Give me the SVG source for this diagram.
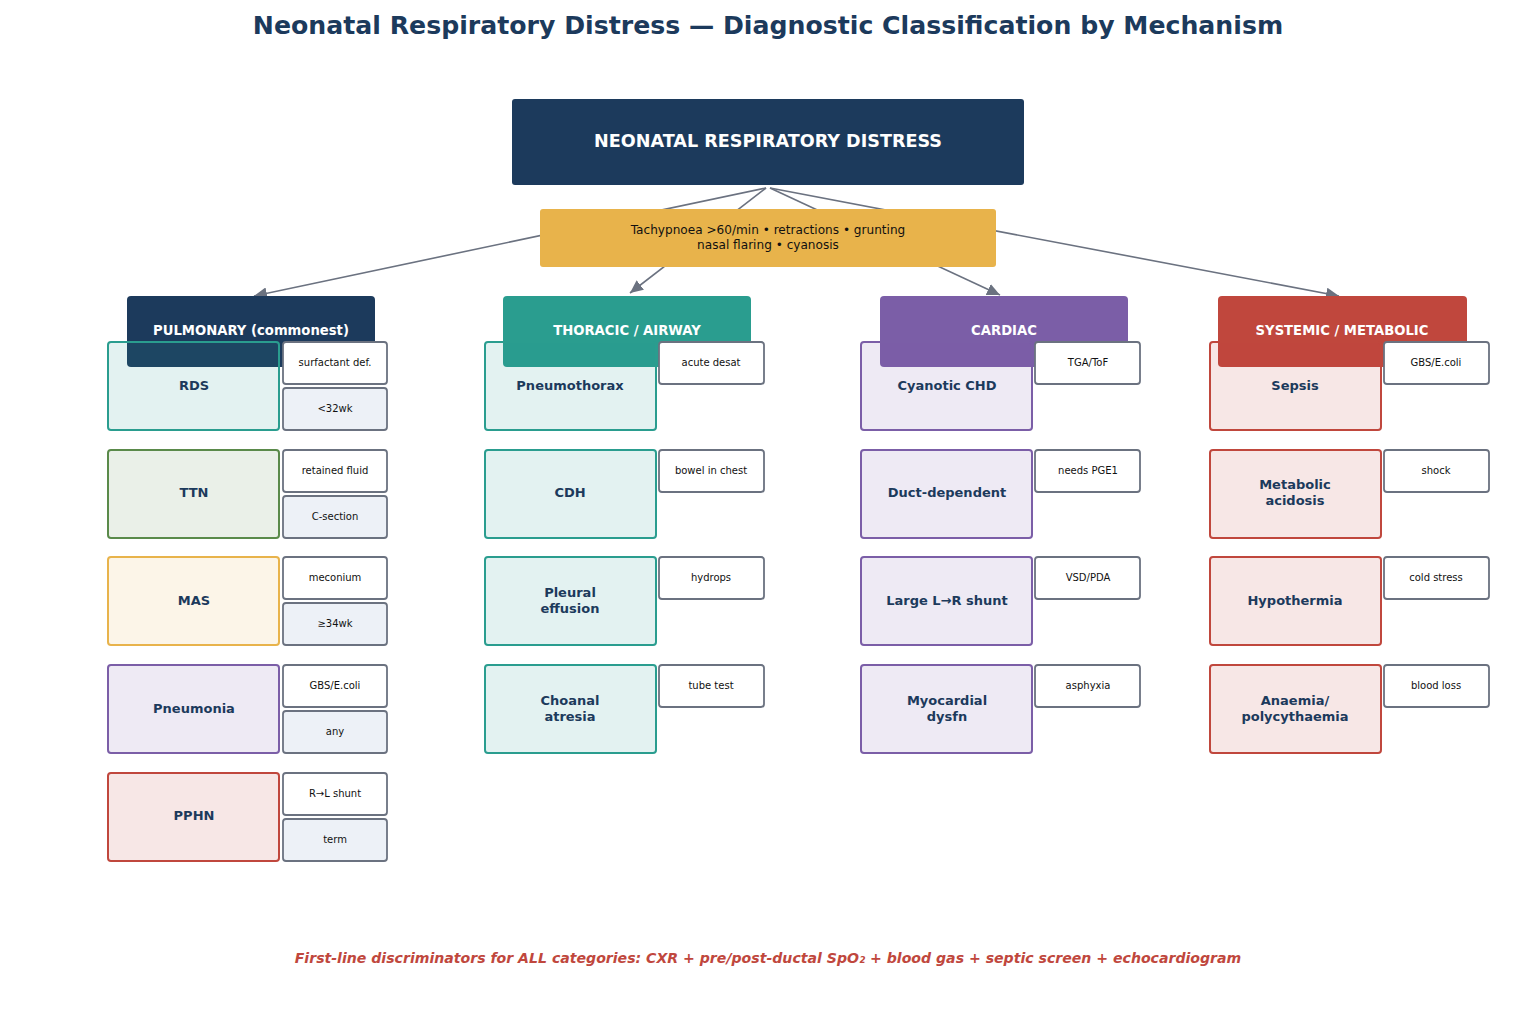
<svg xmlns="http://www.w3.org/2000/svg" width="1536" height="1024" viewBox="0 0 1536 1024">
<style>
text{font-family:"DejaVu Sans","Liberation Sans",sans-serif}
.title{font-size:25.2px;font-weight:bold;fill:#1c3a5c}
.root{fill:#1c3a5c}
.roott{font-size:17.6px;font-weight:bold;fill:#fff}
.sym{fill:#e8b34b}
.symt{font-size:12.1px;fill:#111}
.hdrt{font-size:13.2px;font-weight:bold;fill:#fff}
.node{stroke-width:2;fill-opacity:0.13}
.nt{font-size:13px;font-weight:bold;fill:#1c3a5c}
.s1{fill:#fff;stroke:#6b7280;stroke-width:1.8}
.s2{fill:#edf1f7;stroke:#6b7280;stroke-width:1.8}
.st{font-size:10px;fill:#111}
.conn{stroke:#6b7280;stroke-width:1.6;fill:none}
.foot{font-size:14.1px;font-weight:bold;font-style:italic;fill:#c0473d}
.teal{fill:#2a9d8f;stroke:#2a9d8f}
.green{fill:#5a8a4a;stroke:#5a8a4a}
.gold{fill:#e8b34b;stroke:#e8b34b}
.purple{fill:#7b5ea7;stroke:#7b5ea7}
.red{fill:#c0473d;stroke:#c0473d}
</style>
<defs>
<marker id="arr" markerUnits="userSpaceOnUse" markerWidth="14" markerHeight="12" refX="13" refY="6" orient="auto">
<path d="M0,0 L13,6 L0,12 Z" fill="#6b7280"/>
</marker>
</defs>
<rect width="1536" height="1024" fill="#fff"/>
<text class="title" x="768" y="34" text-anchor="middle">Neonatal Respiratory Distress — Diagnostic Classification by Mechanism</text>

<g id="connectors">
<line class="conn" x1="766" y1="188" x2="254" y2="296" marker-end="url(#arr)"/>
<line class="conn" x1="766" y1="188" x2="630" y2="293" marker-end="url(#arr)"/>
<line class="conn" x1="770" y1="188" x2="1000" y2="295" marker-end="url(#arr)"/>
<line class="conn" x1="770" y1="188" x2="1339" y2="296" marker-end="url(#arr)"/>
</g>

<g id="root">
<rect class="root" x="512" y="99" width="512" height="86" rx="3"/>
<text class="roott" x="768" y="147" text-anchor="middle">NEONATAL RESPIRATORY DISTRESS</text>
</g>

<g id="symptoms">
<rect class="sym" x="540" y="209" width="456" height="58" rx="3"/>
<text class="symt" x="768" y="234" text-anchor="middle">Tachypnoea &gt;60/min • retractions • grunting</text>
<text class="symt" x="768" y="249" text-anchor="middle">nasal flaring • cyanosis</text>
</g>

<g id="hdr-pulmonary"><rect x="127" y="296" width="248" height="71" rx="4" fill="#1c3a5c"/><text class="hdrt" x="251" y="335" text-anchor="middle">PULMONARY (commonest)</text></g>
<g id="hdr-thoracic"><rect x="503" y="296" width="248" height="71" rx="4" fill="#2a9d8f"/><text class="hdrt" x="627" y="335" text-anchor="middle">THORACIC / AIRWAY</text></g>
<g id="hdr-cardiac"><rect x="880" y="296" width="248" height="71" rx="4" fill="#7b5ea7"/><text class="hdrt" x="1004" y="335" text-anchor="middle">CARDIAC</text></g>
<g id="hdr-systemic"><rect x="1218" y="296" width="249" height="71" rx="4" fill="#c0473d"/><text class="hdrt" x="1342" y="335" text-anchor="middle">SYSTEMIC / METABOLIC</text></g>

<!-- Pulmonary -->
<g id="rds"><rect class="node teal" x="108" y="342" width="171" height="88" rx="3"/><text class="nt" x="194" y="390" text-anchor="middle">RDS</text>
<rect class="s1" x="283" y="342" width="104" height="42" rx="3"/><text class="st" x="335" y="366" text-anchor="middle">surfactant def.</text>
<rect class="s2" x="283" y="388" width="104" height="42" rx="3"/><text class="st" x="335" y="412" text-anchor="middle">&lt;32wk</text></g>
<g id="ttn"><rect class="node green" x="108" y="450" width="171" height="88" rx="3"/><text class="nt" x="194" y="497" text-anchor="middle">TTN</text>
<rect class="s1" x="283" y="450" width="104" height="42" rx="3"/><text class="st" x="335" y="474" text-anchor="middle">retained fluid</text>
<rect class="s2" x="283" y="496" width="104" height="42" rx="3"/><text class="st" x="335" y="520" text-anchor="middle">C-section</text></g>
<g id="mas"><rect class="node gold" x="108" y="557" width="171" height="88" rx="3"/><text class="nt" x="194" y="605" text-anchor="middle">MAS</text>
<rect class="s1" x="283" y="557" width="104" height="42" rx="3"/><text class="st" x="335" y="581" text-anchor="middle">meconium</text>
<rect class="s2" x="283" y="603" width="104" height="42" rx="3"/><text class="st" x="335" y="627" text-anchor="middle">≥34wk</text></g>
<g id="pneumonia"><rect class="node purple" x="108" y="665" width="171" height="88" rx="3"/><text class="nt" x="194" y="713" text-anchor="middle">Pneumonia</text>
<rect class="s1" x="283" y="665" width="104" height="42" rx="3"/><text class="st" x="335" y="689" text-anchor="middle">GBS/E.coli</text>
<rect class="s2" x="283" y="711" width="104" height="42" rx="3"/><text class="st" x="335" y="735" text-anchor="middle">any</text></g>
<g id="pphn"><rect class="node red" x="108" y="773" width="171" height="88" rx="3"/><text class="nt" x="194" y="820" text-anchor="middle">PPHN</text>
<rect class="s1" x="283" y="773" width="104" height="42" rx="3"/><text class="st" x="335" y="797" text-anchor="middle">R→L shunt</text>
<rect class="s2" x="283" y="819" width="104" height="42" rx="3"/><text class="st" x="335" y="843" text-anchor="middle">term</text></g>

<!-- Thoracic -->
<g id="pneumothorax"><rect class="node teal" x="485" y="342" width="171" height="88" rx="3"/><text class="nt" x="570" y="390" text-anchor="middle">Pneumothorax</text>
<rect class="s1" x="659" y="342" width="105" height="42" rx="3"/><text class="st" x="711" y="366" text-anchor="middle">acute desat</text></g>
<g id="cdh"><rect class="node teal" x="485" y="450" width="171" height="88" rx="3"/><text class="nt" x="570" y="497" text-anchor="middle">CDH</text>
<rect class="s1" x="659" y="450" width="105" height="42" rx="3"/><text class="st" x="711" y="474" text-anchor="middle">bowel in chest</text></g>
<g id="pleural"><rect class="node teal" x="485" y="557" width="171" height="88" rx="3"/><text class="nt" x="570" y="597" text-anchor="middle">Pleural</text><text class="nt" x="570" y="613" text-anchor="middle">effusion</text>
<rect class="s1" x="659" y="557" width="105" height="42" rx="3"/><text class="st" x="711" y="581" text-anchor="middle">hydrops</text></g>
<g id="choanal"><rect class="node teal" x="485" y="665" width="171" height="88" rx="3"/><text class="nt" x="570" y="705" text-anchor="middle">Choanal</text><text class="nt" x="570" y="721" text-anchor="middle">atresia</text>
<rect class="s1" x="659" y="665" width="105" height="42" rx="3"/><text class="st" x="711" y="689" text-anchor="middle">tube test</text></g>

<!-- Cardiac -->
<g id="cyanotic"><rect class="node purple" x="861" y="342" width="171" height="88" rx="3"/><text class="nt" x="947" y="390" text-anchor="middle">Cyanotic CHD</text>
<rect class="s1" x="1035" y="342" width="105" height="42" rx="3"/><text class="st" x="1088" y="366" text-anchor="middle">TGA/ToF</text></g>
<g id="duct"><rect class="node purple" x="861" y="450" width="171" height="88" rx="3"/><text class="nt" x="947" y="497" text-anchor="middle">Duct-dependent</text>
<rect class="s1" x="1035" y="450" width="105" height="42" rx="3"/><text class="st" x="1088" y="474" text-anchor="middle">needs PGE1</text></g>
<g id="shunt"><rect class="node purple" x="861" y="557" width="171" height="88" rx="3"/><text class="nt" x="947" y="605" text-anchor="middle">Large L→R shunt</text>
<rect class="s1" x="1035" y="557" width="105" height="42" rx="3"/><text class="st" x="1088" y="581" text-anchor="middle">VSD/PDA</text></g>
<g id="myocardial"><rect class="node purple" x="861" y="665" width="171" height="88" rx="3"/><text class="nt" x="947" y="705" text-anchor="middle">Myocardial</text><text class="nt" x="947" y="721" text-anchor="middle">dysfn</text>
<rect class="s1" x="1035" y="665" width="105" height="42" rx="3"/><text class="st" x="1088" y="689" text-anchor="middle">asphyxia</text></g>

<!-- Systemic -->
<g id="sepsis"><rect class="node red" x="1210" y="342" width="171" height="88" rx="3"/><text class="nt" x="1295" y="390" text-anchor="middle">Sepsis</text>
<rect class="s1" x="1384" y="342" width="105" height="42" rx="3"/><text class="st" x="1436" y="366" text-anchor="middle">GBS/E.coli</text></g>
<g id="acidosis"><rect class="node red" x="1210" y="450" width="171" height="88" rx="3"/><text class="nt" x="1295" y="489" text-anchor="middle">Metabolic</text><text class="nt" x="1295" y="505" text-anchor="middle">acidosis</text>
<rect class="s1" x="1384" y="450" width="105" height="42" rx="3"/><text class="st" x="1436" y="474" text-anchor="middle">shock</text></g>
<g id="hypothermia"><rect class="node red" x="1210" y="557" width="171" height="88" rx="3"/><text class="nt" x="1295" y="605" text-anchor="middle">Hypothermia</text>
<rect class="s1" x="1384" y="557" width="105" height="42" rx="3"/><text class="st" x="1436" y="581" text-anchor="middle">cold stress</text></g>
<g id="anaemia"><rect class="node red" x="1210" y="665" width="171" height="88" rx="3"/><text class="nt" x="1295" y="705" text-anchor="middle">Anaemia/</text><text class="nt" x="1295" y="721" text-anchor="middle">polycythaemia</text>
<rect class="s1" x="1384" y="665" width="105" height="42" rx="3"/><text class="st" x="1436" y="689" text-anchor="middle">blood loss</text></g>

<text class="foot" x="768" y="963" text-anchor="middle">First-line discriminators for ALL categories: CXR + pre/post-ductal SpO₂ + blood gas + septic screen + echocardiogram</text>
</svg>
